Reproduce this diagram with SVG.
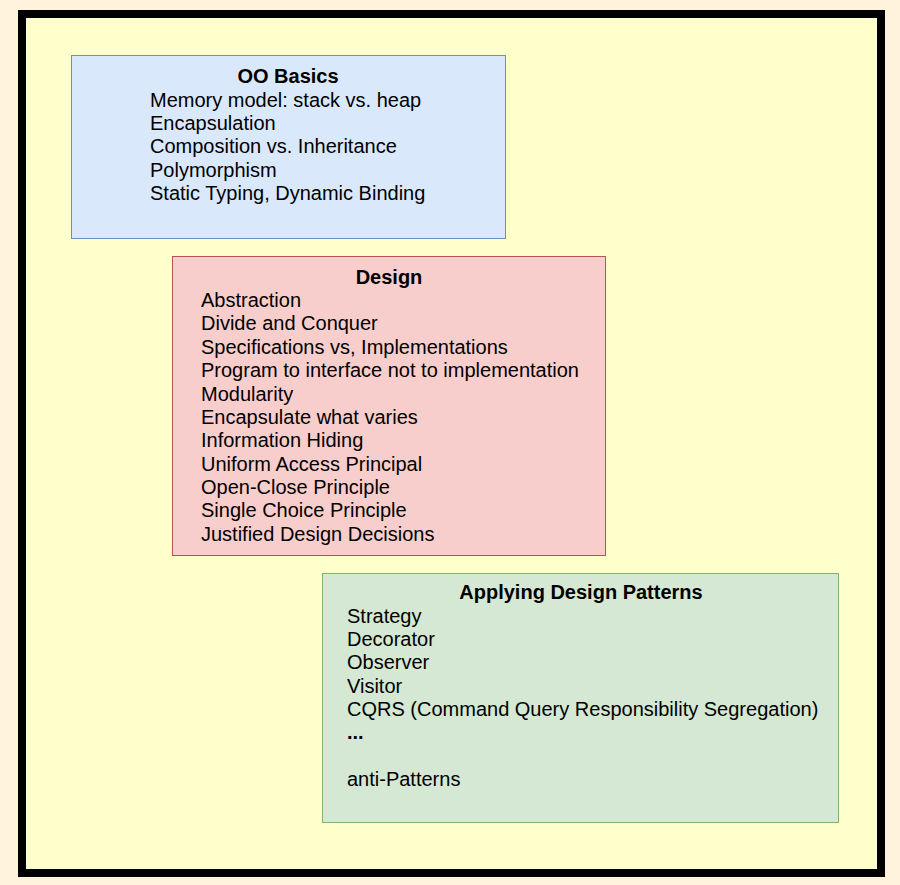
<svg xmlns="http://www.w3.org/2000/svg" width="900" height="885" viewBox="0 0 900 885">
<style>
text{font-family:"Liberation Sans",Arial,Helvetica,sans-serif;font-size:20px;fill:#000}
.t{font-weight:bold;text-anchor:middle}
</style>
<rect x="0" y="0" width="900" height="885" fill="#FFF3DE"/>
<rect x="22" y="14" width="859" height="859" fill="#FFFFCC" stroke="#000" stroke-width="8"/>
<g id="oo-basics">
<rect x="71.5" y="55.5" width="434" height="183" fill="#DAE8FC" stroke="#6C8EBF"/>
<text class="t" x="288" y="83">OO Basics</text>
<text x="150" y="107">Memory model: stack vs. heap</text>
<text x="150" y="130">Encapsulation</text>
<text x="150" y="153">Composition vs. Inheritance</text>
<text x="150" y="177">Polymorphism</text>
<text x="150" y="200">Static Typing, Dynamic Binding</text>
</g>
<g id="design">
<rect x="172.5" y="256.5" width="433" height="299" fill="#F8CECC" stroke="#B85450"/>
<text class="t" x="389" y="284">Design</text>
<text x="201" y="307">Abstraction</text>
<text x="201" y="330">Divide and Conquer</text>
<text x="201" y="354">Specifications vs, Implementations</text>
<text x="201" y="377">Program to interface not to implementation</text>
<text x="201" y="401">Modularity</text>
<text x="201" y="424">Encapsulate what varies</text>
<text x="201" y="447">Information Hiding</text>
<text x="201" y="471">Uniform Access Principal</text>
<text x="201" y="494">Open-Close Principle</text>
<text x="201" y="517">Single Choice Principle</text>
<text x="201" y="541">Justified Design Decisions</text>
</g>
<g id="patterns">
<rect x="322.5" y="573.5" width="516" height="249" fill="#D5E8D4" stroke="#82B366"/>
<text class="t" x="581" y="599">Applying Design Patterns</text>
<text x="347" y="623">Strategy</text>
<text x="347" y="646">Decorator</text>
<text x="347" y="669">Observer</text>
<text x="347" y="693">Visitor</text>
<text x="347" y="716">CQRS (Command Query Responsibility Segregation)</text>
<text x="347" y="739" font-weight="bold">...</text>
<text x="347" y="786">anti-Patterns</text>
</g>
<g id="connectors"/>
</svg>
